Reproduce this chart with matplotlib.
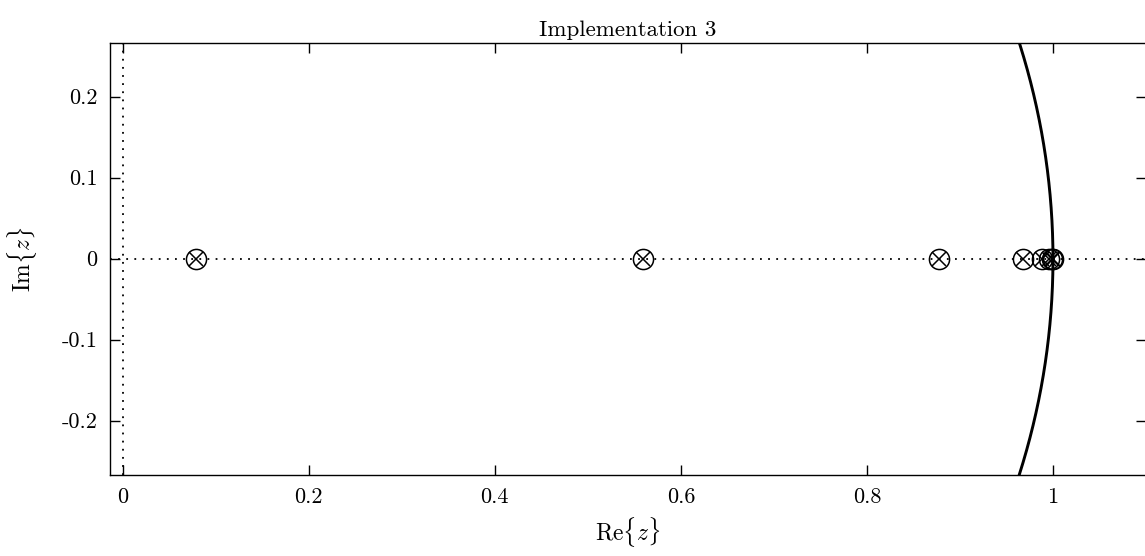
import numpy as np
import matplotlib.pyplot as plt

plt.rcParams["font.family"] = "cmr10"
plt.rcParams["mathtext.fontset"] = "cm"
plt.rcParams["axes.formatter.use_mathtext"] = True

zeros_re = [0.079, 0.559, 0.877, 0.968, 0.988, 0.996, 0.999, 1.0]
zeros_im = [0, 0, 0, 0, 0, 0, 0, 0]
poles_re = [0.079, 0.559, 0.877, 0.968, 0.988, 0.996, 0.999, 1.0]
poles_im = [0, 0, 0, 0, 0, 0, 0, 0]

xticks = [0, 0.2, 0.4, 0.6, 0.8, 1]
xticklabels = ["0", "0.2", "0.4", "0.6", "0.8", "1"]
yticks = [-0.2, -0.1, 0, 0.1, 0.2]
yticklabels = ["-0.2", "-0.1", "0", "0.1", "0.2"]

fig = plt.figure(figsize=(11.45, 5.56), dpi=100)
ax = fig.add_axes([110 / 1145, 81.3 / 556, 1036 / 1145, 432 / 556])

# axes through origin
ax.axhline(0, color="black", lw=1.3, ls=(0, (1, 3.5)))
ax.axvline(0, color="black", lw=1.3, ls=(0, (1, 3.5)))

# unit circle
t = np.linspace(0, 2 * np.pi, 2000)
ax.plot(np.cos(t), np.sin(t), color="black", lw=2.1)

ax.plot(zeros_re, zeros_im, "o", mfc="none", mec="black", ms=14.5, mew=1.1)
ax.plot(poles_re, poles_im, "x", color="black", ms=10, mew=1.1)

ax.set_xlim(-0.0137, 1.1)
ax.set_ylim(-0.2667, 0.2667)
ax.set_xticks(xticks)
ax.set_xticklabels(xticklabels)
ax.set_yticks(yticks)
ax.set_yticklabels(yticklabels)
ax.tick_params(direction="in", length=7.2, width=1, top=True, right=True,
               labelsize=16, pad=9)
for s in ax.spines.values():
    s.set_linewidth(1.0)

ax.set_xlabel(r"Re$\{z\}$", fontsize=17, labelpad=6)
ax.set_ylabel(r"Im$\{z\}$", fontsize=17, labelpad=16)
ax.set_title("Implementation 3", fontsize=16.5, pad=5)

fig.savefig("out.png", dpi=100)
